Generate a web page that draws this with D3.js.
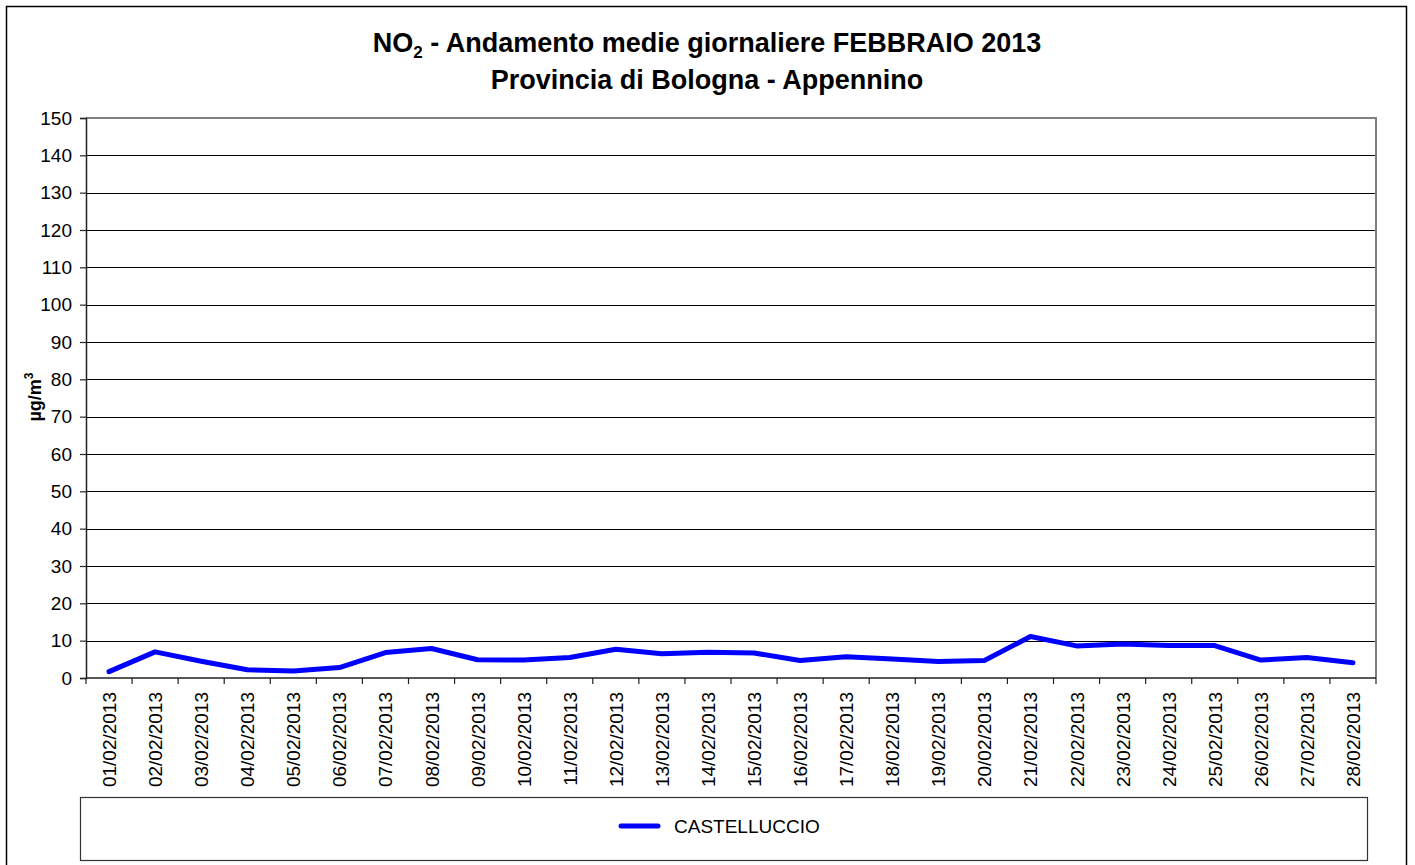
<!DOCTYPE html>
<html>
<head>
<meta charset="utf-8">
<script src="https://cdn.jsdelivr.net/npm/d3@7"></script>
<style>
  body { margin: 0; background: #fff; }
  svg { display: block; font-family: "Liberation Sans", Arial, sans-serif; }
</style>
</head>
<body>
<svg id="chart" width="1415" height="865"></svg>
<script>
// daily NO2 means, Feb 2013, station CASTELLUCCIO
const days = [
  "01/02/2013", "02/02/2013", "03/02/2013", "04/02/2013", "05/02/2013",
  "06/02/2013", "07/02/2013", "08/02/2013", "09/02/2013", "10/02/2013",
  "11/02/2013", "12/02/2013", "13/02/2013", "14/02/2013", "15/02/2013",
  "16/02/2013", "17/02/2013", "18/02/2013", "19/02/2013", "20/02/2013",
  "21/02/2013", "22/02/2013", "23/02/2013", "24/02/2013", "25/02/2013",
  "26/02/2013", "27/02/2013", "28/02/2013"
];
const castelluccio = [
  1.7, 7.0, 4.5, 2.2, 1.9, 2.8, 6.8, 7.9, 4.9, 4.8,
  5.5, 7.7, 6.5, 6.9, 6.7, 4.7, 5.7, 5.1, 4.4, 4.7,
  11.1, 8.6, 9.1, 8.7, 8.7, 4.8, 5.5, 4.1
];
const yTicks = [0, 10, 20, 30, 40, 50, 60, 70, 80, 90, 100, 110, 120, 130, 140, 150];

const svg = d3.select("#chart");

// outer frame
svg.append("rect")
  .attr("x", 6.5).attr("y", 6.5)
  .attr("width", 1400).attr("height", 870)
  .attr("fill", "none").attr("stroke", "#000").attr("stroke-width", 1.5);

// plot area
const plotLeft = 86, plotRight = 1376, plotTop = 118, plotBottom = 678;

let x = d3.scaleBand().domain(days).range([plotLeft, plotRight]);
let y = d3.scaleLinear().domain([0, 150]).range([plotBottom, plotTop]);

let plot = svg.append("g");

// gridlines
plot.selectAll("line.grid")
  .data(yTicks.filter((d) => d > 0))
  .enter()
  .append("line")
  .attr("class", "grid")
  .attr("x1", plotLeft).attr("x2", plotRight)
  .attr("y1", (d) => Math.round(y(d)) + 0.5)
  .attr("y2", (d) => Math.round(y(d)) + 0.5)
  .attr("stroke", "#000").attr("stroke-width", 1);

// gray border top and right
plot.append("path")
  .attr("d", `M${plotLeft},${plotTop} H${plotRight} V${plotBottom}`)
  .attr("fill", "none").attr("stroke", "#808080").attr("stroke-width", 2);

// y axis
let yAxis = d3.axisLeft(y).tickValues(yTicks).tickSize(6).tickPadding(8);
let gy = svg.append("g")
  .attr("transform", `translate(${plotLeft},0)`)
  .call(yAxis);
gy.select(".domain").attr("stroke", "#222").attr("stroke-width", 1.5);
gy.selectAll(".tick line").attr("stroke", "#222").attr("stroke-width", 1.2);
gy.selectAll("text")
  .attr("font-size", 19).attr("fill", "#000")
  .attr("font-family", "Liberation Sans, Arial, sans-serif");

// x axis: ticks at category boundaries
let gx = svg.append("g");
gx.append("line")
  .attr("x1", plotLeft).attr("x2", plotRight)
  .attr("y1", plotBottom).attr("y2", plotBottom)
  .attr("stroke", "#222").attr("stroke-width", 1.5);
gx.selectAll("line.tick")
  .data(days.concat(["end"]))
  .enter()
  .append("line")
  .attr("class", "tick")
  .attr("x1", (d, i) => plotLeft + i * x.bandwidth())
  .attr("x2", (d, i) => plotLeft + i * x.bandwidth())
  .attr("y1", plotBottom).attr("y2", plotBottom + 6)
  .attr("stroke", "#222").attr("stroke-width", 1.2);
gx.selectAll("text")
  .data(days)
  .enter()
  .append("text")
  .attr("transform", (d) => `translate(${x(d) + x.bandwidth() / 2 + 7},${plotBottom + 14}) rotate(-90)`)
  .attr("text-anchor", "end")
  .attr("font-size", 19)
  .text((d) => d);

// series line
let line = d3.line()
  .x((d, i) => x(days[i]) + x.bandwidth() / 2)
  .y((d) => y(d));

plot.append("path")
  .datum(castelluccio)
  .attr("d", line)
  .attr("fill", "none")
  .attr("stroke", "#0000ff")
  .attr("stroke-width", 5)
  .attr("stroke-linejoin", "round")
  .attr("stroke-linecap", "round");

// titles
let t1 = svg.append("text")
  .attr("x", 707).attr("y", 52)
  .attr("text-anchor", "middle")
  .attr("font-size", 27).attr("font-weight", "bold");
t1.append("tspan").text("NO");
t1.append("tspan").attr("font-size", 17).attr("dy", 6).text("2");
t1.append("tspan").attr("dy", -6).text(" - Andamento medie giornaliere FEBBRAIO 2013");

svg.append("text")
  .attr("x", 707).attr("y", 89)
  .attr("text-anchor", "middle")
  .attr("font-size", 27).attr("font-weight", "bold")
  .text("Provincia di Bologna - Appennino");

// y axis title
let yt = svg.append("text")
  .attr("transform", "translate(41,397) rotate(-90)")
  .attr("text-anchor", "middle")
  .attr("font-size", 18).attr("font-weight", "bold");
yt.append("tspan").text("µg/m");
yt.append("tspan").attr("font-size", 12).attr("dy", -8).text("3");

// legend
let legend = svg.append("g");
legend.append("rect")
  .attr("x", 80.5).attr("y", 797.5)
  .attr("width", 1287).attr("height", 63)
  .attr("fill", "none").attr("stroke", "#333").attr("stroke-width", 1.2);
legend.append("line")
  .attr("x1", 621).attr("x2", 658)
  .attr("y1", 826).attr("y2", 826)
  .attr("stroke", "#0000ff").attr("stroke-width", 5)
  .attr("stroke-linecap", "round");
legend.append("text")
  .attr("x", 674).attr("y", 833)
  .attr("font-size", 19)
  .text("CASTELLUCCIO");
</script>
</body>
</html>
